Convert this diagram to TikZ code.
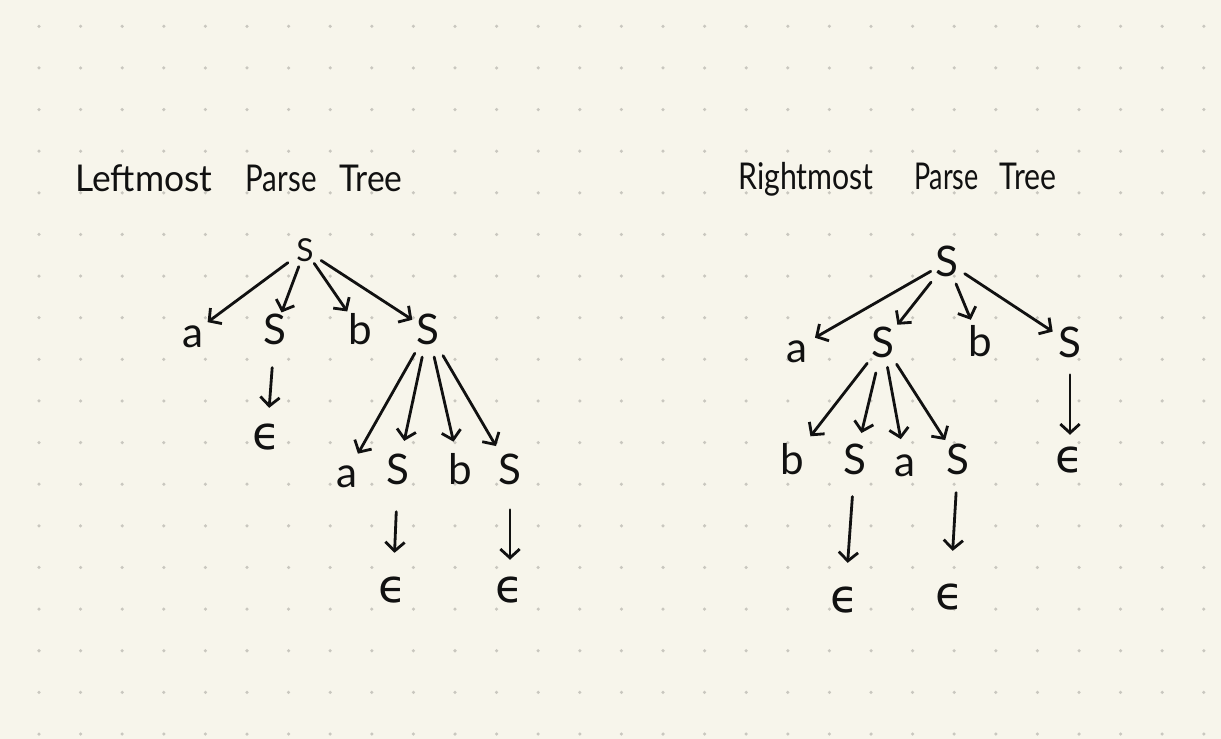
\documentclass[tikz,border=0pt]{standalone}
\usepackage{fontspec}
\setmainfont{Lato}
\newfontfamily\epsfont{DejaVu Sans}
\usetikzlibrary{arrows.meta}
\definecolor{paper}{HTML}{F7F5EB}
\definecolor{dotc}{HTML}{C9C7BF}
\definecolor{ink}{HTML}{111111}
\begin{document}
\begin{tikzpicture}[x=0.02cm,y=-0.02cm,
  sym/.style={circle,inner sep=0pt,outer sep=0pt,text=ink,font=\fontsize{24}{28}\selectfont,text height=17pt,text depth=0pt},
  eps/.style={circle,inner sep=0pt,outer sep=0pt,text=ink,font=\epsfont\fontsize{26}{30}\selectfont},
  ttl/.style={anchor=base west,inner sep=0pt,text=ink,font=\fontsize{21}{25}\selectfont},
  arr/.style={draw=ink,line width=1.6pt,line cap=round,-{Straight Barb[length=5pt,width=11pt,line width=1.6pt]}},
]
\useasboundingbox (0,0) rectangle (1221,739);
\fill[paper] (0,0) rectangle (1221,739);
\foreach \i in {0,...,28}{\foreach \j in {0,...,17}{
  \fill[dotc] ({39+41.6*\i},{26.3+41.63*\j}) circle (1pt);}}

% titles
\node[ttl] (tl) at (75,192) {\scalebox{0.96}[1]{Leftmost}\hspace{19pt}\scalebox{0.80}[1]{Parse}\hspace{13pt}\scalebox{0.91}[1]{Tree}};
\node[ttl] (tr) at (738,190) {\scalebox{0.82}[1]{Rightmost}\hspace{23pt}\scalebox{0.73}[1]{Parse}\hspace{12pt}\scalebox{0.82}[1]{Tree}};

% left tree
\node[sym,font=\fontsize{18}{22}\selectfont,text height=13pt] (L0) at (305,250) {S};
\node[sym] (L1) at (193,333) {a};
\node[sym] (L2) at (275,330) {S};
\node[sym] (L3) at (360,330) {b};
\node[sym] (L4) at (428,330) {S};
\node[eps] (L5) at (267,437) {ϵ};
\node[sym] (L6) at (347,473) {a};
\node[sym] (L7) at (398,470) {S};
\node[sym] (L8) at (460,470) {b};
\node[sym] (L9) at (510,470) {S};
\node[eps] (L10) at (393,590) {ϵ};
\node[eps] (L11) at (510,590) {ϵ};

\draw[arr,shorten <=0.14cm] (L0) -- (L1);
\draw[arr,shorten <=0.07cm] (L0) -- (L2);
\draw[arr,shorten <=0.04cm,shorten >=0.07cm] (L0) -- (L3);
\draw[arr,shorten <=0.10cm] (L0) -- (L4);
\draw[arr,shorten <=0.38cm,shorten >=0.20cm] (L2) -- (L5);
\draw[arr,shorten <=0.16cm,shorten >=0.08cm] (L4) -- (L6);
\draw[arr,shorten <=0.18cm,shorten >=0.22cm] (L4) -- (L7);
\draw[arr,shorten <=0.18cm,shorten >=0.20cm] (L4) -- (L8);
\draw[arr,shorten <=0.22cm,shorten >=0.18cm] (L4) -- (L9);
\draw[arr,shorten <=0.46cm,shorten >=0.36cm] (L7) -- (L10);
\draw[arr,shorten <=0.42cm,shorten >=0.22cm] (L9) -- (L11);

% right tree
\node[sym] (R0) at (947,262) {S};
\node[sym] (R1) at (797,348) {a};
\node[sym] (R2) at (883,343) {S};
\node[sym] (R3) at (980,342) {b};
\node[sym] (R4) at (1070,343) {S};
\node[sym] (R5) at (792,460) {b};
\node[sym] (R6) at (855,460) {S};
\node[sym] (R7) at (905,462) {a};
\node[sym] (R8) at (958,460) {S};
\node[eps] (R9) at (1070,460) {ϵ};
\node[eps] (R10) at (845,600) {ϵ};
\node[eps] (R11) at (950,597) {ϵ};

\draw[arr,shorten >=0.05cm] (R0) -- (R1);
\draw[arr,shorten <=0.14cm,shorten >=0.09cm] (R0) -- (R2);
\draw[arr,shorten <=0.10cm,shorten >=0.10cm] (R0) -- (R3);
\draw[arr,shorten <=0.05cm,shorten >=0.04cm] (R0) -- (R4);
\draw[arr,shorten <=0.26cm,shorten >=0.12cm] (R4) -- (R9);
\draw[arr,shorten <=0.14cm,shorten >=0.22cm] (R2) -- (R5);
\draw[arr,shorten <=0.24cm,shorten >=0.18cm] (R2) -- (R6);
\draw[arr,shorten <=0.12cm,shorten >=0.10cm] (R2) -- (R7);
\draw[arr,shorten <=0.13cm,shorten >=0.10cm] (R2) -- (R8);
\draw[arr,shorten <=0.36cm,shorten >=0.36cm] (R6) -- (R10);
\draw[arr,shorten <=0.28cm,shorten >=0.54cm] (R8) -- (R11);
\end{tikzpicture}
\end{document}
